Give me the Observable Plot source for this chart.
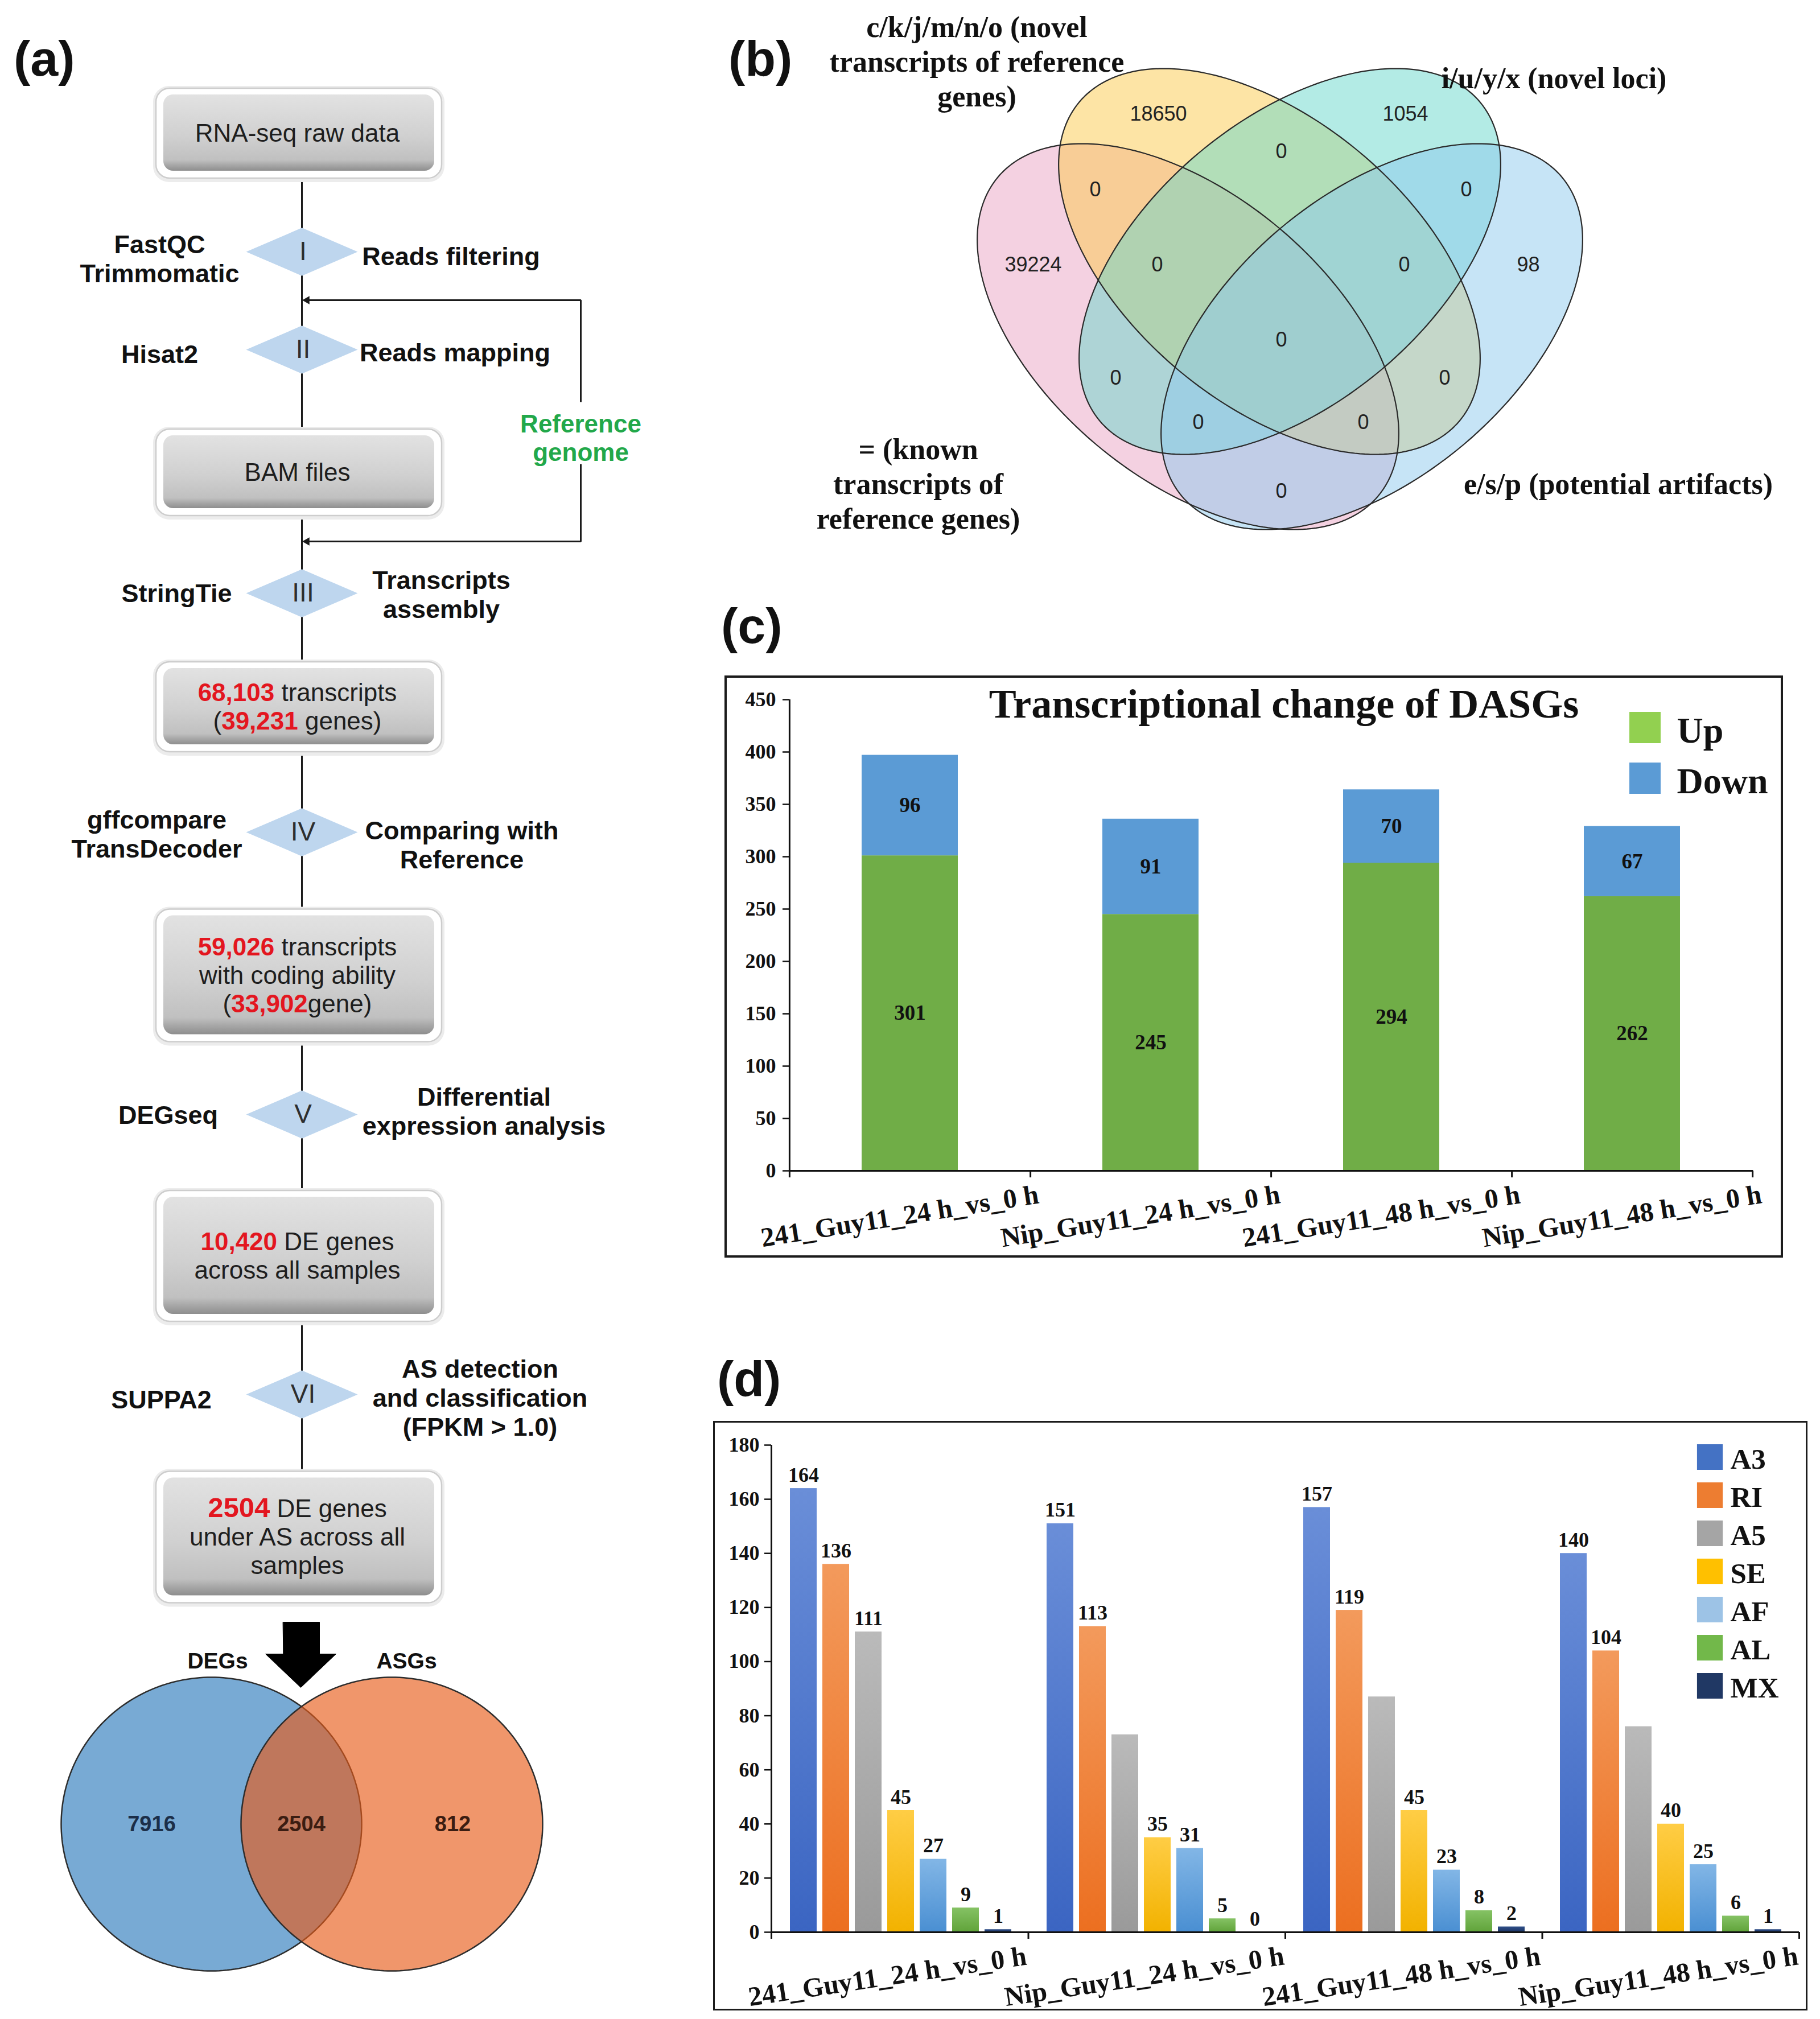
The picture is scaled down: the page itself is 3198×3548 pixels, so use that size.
<!DOCTYPE html>
<html>
<head>
<meta charset="utf-8">
<script src="https://cdn.jsdelivr.net/npm/d3@7"></script>
<script src="https://cdn.jsdelivr.net/npm/@observablehq/plot@0.6"></script>
<style>
html, body { margin: 0; padding: 0; background: #fff; }
#page { position: relative; width: 3198px; height: 3548px; background: #fff; overflow: hidden; }
.panel { position: absolute; }
.panel svg { max-width: none !important; display: block; overflow: visible; }
.plabel { position: absolute; font-family: "Liberation Sans", Arial, sans-serif; font-weight: bold; font-size: 88px; line-height: 100px; color: #111; white-space: nowrap; }
.border { position: absolute; box-sizing: border-box; border: 4px solid #1b1b1b; pointer-events: none; }
</style>
</head>
<body>
<div id="page">
<svg width="0" height="0" style="position:absolute"><defs id="defs"></defs></svg>
</div>
<script>
// ======================= DATA =======================
// (a) pipeline flowchart
const flowBoxTexts = [
  ["RNA-seq raw data"],
  ["BAM files"],
  ["{68,103} transcripts", "({39,231} genes)"],
  ["{59,026} transcripts", "with coding ability", "({33,902}gene)"],
  ["{10,420} DE genes", "across all samples"],
  ["{2504|49} DE genes", "under AS across all", "samples"]
];
const stepNumerals = ["I", "II", "III", "IV", "V", "VI"];
const stepTools = [["FastQC", "Trimmomatic"], ["Hisat2"], ["StringTie"], ["gffcompare", "TransDecoder"], ["DEGseq"], ["SUPPA2"]];
const stepActions = [["Reads filtering"], ["Reads mapping"], ["Transcripts", "assembly"], ["Comparing with", "Reference"], ["Differential", "expression analysis"], ["AS detection", "and classification", "(FPKM > 1.0)"]];
const referenceLabel = ["Reference", "genome"];
const vennASets = ["DEGs", "ASGs"];
const vennACounts = [7916, 2504, 812];

// (b) four-set Venn diagram
const vennBSetLabels = [
  ["= (known", "transcripts of", "reference genes)"],
  ["c/k/j/m/n/o (novel", "transcripts of reference", "genes)"],
  ["i/u/y/x (novel loci)"],
  ["e/s/p (potential artifacts)"]
];
const vennBCounts = [18650, 1054, 0, 0, 0, 39224, 0, 0, 98, 0, 0, 0, 0, 0, 0];

// (c) transcriptional change of DASGs
const comparisons = ["241_Guy11_24 h_vs_0 h", "Nip_Guy11_24 h_vs_0 h", "241_Guy11_48 h_vs_0 h", "Nip_Guy11_48 h_vs_0 h"];
const directions = ["Up", "Down"];
const upCounts = [301, 245, 294, 262];
const downCounts = [96, 91, 70, 67];
const titleC = "Transcriptional change of DASGs";
const yTicksC = [0, 50, 100, 150, 200, 250, 300, 350, 400, 450];

// (d) AS event types
const asTypes = ["A3", "RI", "A5", "SE", "AF", "AL", "MX"];
const countsA3 = [164, 151, 157, 140];
const countsRI = [136, 113, 119, 104];
const countsA5 = [111, 73, 87, 76];
const countsSE = [45, 35, 45, 40];
const countsAF = [27, 31, 23, 25];
const countsAL = [9, 5, 8, 6];
const countsMX = [1, 0, 2, 1];
const labeledA5 = [true, false, false, false];
const yTicksD = [0, 20, 40, 60, 80, 100, 120, 140, 160, 180];

// ======================= STYLE / LAYOUT =======================
const SANS = '"Liberation Sans", Arial, Helvetica, sans-serif';
const SERIF = '"Liberation Serif", "Times New Roman", Times, serif';
const INK = "#1a1a1a";

const FLOW_X = 530;
const BOX = {cx: 525, w: 502, textX: 522, lineH: 50};
const boxY = [234, 830, 1242, 1714, 2207, 2701];
const boxH = [158, 152, 158, 233, 230, 231];
const diamondY = [442, 614, 1042, 1462, 1958, 2450];
const toolPos = [[280, 456], [280, 623], [310, 1043], [275, 1467], [295, 1960], [283, 2460]];
const actionPos = [[792, 451], [799, 620], [775, 1046], [811, 1486], [850, 1954], [843, 2457]];
const LABEL_LH = 51;
const loop = {x: 1020, yTop: 527, yBot: 951, gapTop: 706, gapBot: 815, labelY: 770, tipX: 540};
const bigArrowPts = [[497, 2850], [561, 2850], [561, 2906], [590, 2906], [528, 2965], [466, 2906], [497, 2906]];
const vennAShapes = [{cx: 371, cy: 3205, rx: 264, ry: 258, fill: "#78aad4", op: 1}, {cx: 688, cy: 3205, rx: 265, ry: 258, fill: "#e85a18", op: 0.64}];
const vennASetPos = [[382, 2919], [714, 2919]];
const vennACountPos = [[266, 3205], [529, 3205], [795, 3205]];
const vennACountColor = ["#1c2e48", "#3b1d12", "#3b1d12"];

const vennBShapes = [
  {cx: 2087, cy: 591, a: 436, b: 249, rot: 40, fill: "#e9a3c3"},
  {cx: 2230, cy: 459, a: 436, b: 249, rot: 40, fill: "#fbc94c"},
  {cx: 2266, cy: 459, a: 436, b: 249, rot: -40, fill: "#68d8cc"},
  {cx: 2410, cy: 591, a: 436, b: 249, rot: -40, fill: "#8ecaee"}
];
const vennBLabelPos = [[1613, 851], [1716, 109], [2730, 138], [2843, 851]];
const VENN_B_LH = 61;
const vennBCountPos = [[2035, 200], [2469, 200], [2251, 266], [1924, 333], [2576, 333], [1815, 465], [2033, 465], [2467, 465], [2685, 465], [2251, 597], [1960, 664], [2538, 664], [2105, 742], [2395, 742], [2251, 863]];

const colorsC = ["#70ad47", "#5b9bd5"];
const legendColorsC = ["#92d050", "#5b9bd5"];
const barTopD = ["#6a8ed8", "#f39a5c", "#bababa", "#ffcd45", "#82b6e6", "#85c264", "#2f4f88"];
const barBottomD = ["#3b65c2", "#ec6f20", "#9a9a9a", "#f2b200", "#4a8fd2", "#60a33a", "#1c3566"];
const legendColorsD = ["#4472c4", "#ed7d31", "#a5a5a5", "#ffc000", "#9dc3e6", "#72b84a", "#203864"];

// ======================= HELPERS =======================
const NS = "http://www.w3.org/2000/svg";
const page = document.getElementById("page");
const defs = document.getElementById("defs");

function addGradient(id, stops) {
  const g = document.createElementNS(NS, "linearGradient");
  g.setAttribute("id", id);
  g.setAttribute("x1", "0"); g.setAttribute("y1", "0"); g.setAttribute("x2", "0"); g.setAttribute("y2", "1");
  for (const [o, c] of stops) {
    const s = document.createElementNS(NS, "stop");
    s.setAttribute("offset", o); s.setAttribute("stop-color", c);
    g.appendChild(s);
  }
  defs.appendChild(g);
}
addGradient("boxGrad", [[0, "#e2e2e2"], [0.55, "#d0d0d0"], [0.86, "#c0c0c0"], [0.93, "#a6a6a6"], [1, "#8e8e8e"]]);
asTypes.forEach((t, i) => addGradient("gd-" + t, [[0, barTopD[i]], [1, barBottomD[i]]]));
const gradUrlsD = asTypes.map(t => `url(#gd-${t})`);

function place(node, left, top, w, h) {
  const div = document.createElement("div");
  div.className = "panel";
  Object.assign(div.style, {left: left + "px", top: top + "px", width: w + "px", height: h + "px"});
  div.appendChild(node);
  page.appendChild(div);
  return node;
}
function addDiv(cls, text, left, top, extra = {}) {
  const d = document.createElement("div");
  d.className = cls;
  if (text) d.textContent = text;
  Object.assign(d.style, {left: left + "px", top: top + "px"}, extra);
  page.appendChild(d);
  return d;
}
function pixelPlot(x0, y0, w, h, marks) {
  return Plot.plot({
    width: w, height: h, margin: 0,
    x: {type: "linear", domain: [x0, x0 + w], range: [0, w], axis: null},
    y: {type: "linear", domain: [y0, y0 + h], range: [0, h], axis: null},
    style: {background: "transparent", overflow: "visible"},
    marks
  });
}
function ellipsePts(cx, cy, a, b, deg, n = 240) {
  const t = deg * Math.PI / 180, c = Math.cos(t), s = Math.sin(t);
  return d3.range(n).map(k => {
    const u = 2 * Math.PI * k / n, ex = a * Math.cos(u), ey = b * Math.sin(u);
    return {x: cx + ex * c - ey * s, y: cy + ex * s + ey * c};
  });
}
function stackLines(lines, x, yc, lh) {
  return lines.map((t, j) => ({t, x, y: yc + (j - (lines.length - 1) / 2) * lh}));
}
function colorizeBraces(svg, color) {
  svg.querySelectorAll("text").forEach(node => {
    const s = node.textContent;
    if (!s.includes("{")) return;
    node.textContent = "";
    s.split(/(\{[^}]*\})/).forEach(part => {
      if (!part) return;
      const ts = document.createElementNS(NS, "tspan");
      if (part.startsWith("{")) {
        const [val, size] = part.slice(1, -1).split("|");
        ts.textContent = val;
        ts.setAttribute("fill", color);
        ts.setAttribute("font-weight", "bold");
        if (size) ts.setAttribute("font-size", size);
      } else ts.textContent = part;
      node.appendChild(ts);
    });
  });
}
const wideDiamond = {
  draw(context, size) {
    const r = Math.sqrt(size / Math.PI), h = r * 0.43;
    context.moveTo(-r, 0); context.lineTo(0, -h); context.lineTo(r, 0); context.lineTo(0, h); context.closePath();
  }
};

// ======================= PANEL (a) =======================
{
  const boxes = flowBoxTexts.map((lines, i) => ({i, y: boxY[i], h: boxH[i]}));
  const boxLines = flowBoxTexts.flatMap((lines, i) => stackLines(lines, BOX.textX, boxY[i], BOX.lineH));
  const steps = stepNumerals.map((n, i) => ({n, y: diamondY[i]}));
  const toolLines = stepTools.flatMap((lines, i) => stackLines(lines, toolPos[i][0], toolPos[i][1], LABEL_LH));
  const actionLines = stepActions.flatMap((lines, i) => stackLines(lines, actionPos[i][0], actionPos[i][1], LABEL_LH));
  const refLines = stackLines(referenceLabel, loop.x, loop.labelY, 50);
  const loopTop = [{x: loop.tipX, y: loop.yTop}, {x: loop.x, y: loop.yTop}, {x: loop.x, y: loop.gapTop}];
  const loopBot = [{x: loop.x, y: loop.gapBot}, {x: loop.x, y: loop.yBot}, {x: loop.tipX, y: loop.yBot}];
  const heads = [{x: loop.tipX, y: loop.yTop}, {x: loop.tipX, y: loop.yBot}];
  const arrow = bigArrowPts.map(([x, y]) => ({x, y}));
  const vennA = vennAShapes.map(s => ellipsePts(s.cx, s.cy, s.rx, s.ry, 0));
  const setLabels = vennASets.map((t, i) => ({t, x: vennASetPos[i][0], y: vennASetPos[i][1]}));
  const countLabels = vennACounts.map((v, i) => ({t: String(v), x: vennACountPos[i][0], y: vennACountPos[i][1], c: vennACountColor[i]}));
  const bx1 = BOX.cx - BOX.w / 2, bx2 = BOX.cx + BOX.w / 2;

  const svg = pixelPlot(0, 0, 1150, 3548, [
    Plot.ruleX([FLOW_X], {y1: boxY[0], y2: boxY[5], stroke: INK, strokeWidth: 3}),
    Plot.line(loopTop, {x: "x", y: "y", stroke: INK, strokeWidth: 3, strokeLinejoin: "miter", strokeLinecap: "butt"}),
    Plot.line(loopBot, {x: "x", y: "y", stroke: INK, strokeWidth: 3, strokeLinejoin: "miter", strokeLinecap: "butt"}),
    Plot.dot(heads, {x: d => d.x - 1, y: "y", symbol: "triangle2", r: 7, rotate: -90, fill: INK}),
    // boxes: soft shadow, white rim, grey bevel
    Plot.rect(boxes, {x1: bx1 - 5, x2: bx2 + 5, y1: d => d.y - d.h / 2 - 4, y2: d => d.y + d.h / 2 + 7, rx: 28, fill: "#ececec"}),
    Plot.rect(boxes, {x1: bx1, x2: bx2, y1: d => d.y - d.h / 2, y2: d => d.y + d.h / 2, rx: 24, fill: "white", stroke: "#cdcdcd", strokeWidth: 2.5}),
    Plot.rect(boxes, {x1: bx1 + 13, x2: bx2 - 13, y1: d => d.y - d.h / 2 + 11, y2: d => d.y + d.h / 2 - 13, rx: 17, fill: "url(#boxGrad)"}),
    Plot.text(boxLines, {x: "x", y: "y", text: "t", fontSize: 44, fontFamily: SANS, fill: "#1e1e1e"}),
    // diamonds
    Plot.dot(steps, {x: FLOW_X, y: "y", symbol: wideDiamond, r: 98, fill: "#bed6ee"}),
    Plot.text(steps, {x: FLOW_X + 2, y: "y", text: "n", fontSize: 46, fontFamily: SANS, fill: "#2e2e2e"}),
    Plot.text(toolLines, {x: "x", y: "y", text: "t", fontSize: 45, fontWeight: "bold", fontFamily: SANS, fill: "#111"}),
    Plot.text(actionLines, {x: "x", y: "y", text: "t", fontSize: 45, fontWeight: "bold", fontFamily: SANS, fill: "#111"}),
    Plot.text(refLines, {x: "x", y: "y", text: "t", fontSize: 44, fontWeight: "bold", fontFamily: SANS, fill: "#22a84a"}),
    // big arrow
    Plot.line(arrow, {x: "x", y: "y", curve: "linear-closed", fill: "#000", stroke: "#000", strokeWidth: 1}),
    // two-set Venn
    ...vennA.map((pts, i) => Plot.line(pts, {x: "x", y: "y", curve: "linear-closed", fill: vennAShapes[i].fill, fillOpacity: vennAShapes[i].op, stroke: "#2d2d2d", strokeWidth: 2.5})),
    Plot.text(setLabels, {x: "x", y: "y", text: "t", fontSize: 39, fontWeight: "bold", fontFamily: SANS, fill: "#111"}),
    Plot.text(countLabels, {x: "x", y: "y", text: "t", fontSize: 38, fontWeight: "bold", fontFamily: SANS, fill: d => d.c})
  ]);
  colorizeBraces(svg, "#e3161f");
  place(svg, 0, 0, 1150, 3548);
}

// ======================= PANEL (b) =======================
{
  const shapes = vennBShapes.map(s => ellipsePts(s.cx, s.cy, s.a, s.b, s.rot));
  const setLines = vennBSetLabels.flatMap((lines, i) => stackLines(lines, vennBLabelPos[i][0], vennBLabelPos[i][1], VENN_B_LH));
  const counts = vennBCounts.map((v, i) => ({t: String(v), x: vennBCountPos[i][0], y: vennBCountPos[i][1]}));
  const svg = pixelPlot(1250, 0, 1948, 1000, [
    ...shapes.map((pts, i) => Plot.line(pts, {x: "x", y: "y", curve: "linear-closed", fill: vennBShapes[i].fill, fillOpacity: 0.5, stroke: "none"})),
    ...shapes.map(pts => Plot.line(pts, {x: "x", y: "y", curve: "linear-closed", fill: "none", stroke: "#2a2a2a", strokeWidth: 2.2})),
    Plot.text(counts, {x: "x", y: "y", text: "t", fontSize: 36, fontFamily: SANS, fill: "#222"}),
    Plot.text(setLines, {x: "x", y: "y", text: "t", fontSize: 52, fontWeight: "bold", fontFamily: SERIF, fill: "#111"})
  ]);
  place(svg, 1250, 0, 1948, 1000);
}

// ======================= PANEL (c) =======================
{
  const W = 1860, H = 1023, ml = 114, mr = 53, mt = 42, mb = 153;
  const step = (W - ml - mr) / comparisons.length;
  const yMax = yTicksC[yTicksC.length - 1];
  const tickLen = 12 * yMax / (H - mt - mb);
  const rows = directions.flatMap(dir => comparisons.map((comp, i) => ({comp, dir, value: dir === "Up" ? upCounts[i] : downCounts[i]})));
  const svg = Plot.plot({
    width: W, height: H, marginLeft: ml, marginRight: mr, marginTop: mt, marginBottom: mb,
    style: {background: "transparent", fontFamily: SERIF, fontWeight: "bold", fontSize: "36px", color: "#111", overflow: "visible"},
    x: {domain: comparisons, paddingInner: 0.6, paddingOuter: 0.3, axis: null},
    y: {domain: [0, yMax]},
    color: {domain: directions, range: colorsC},
    marks: [
      Plot.barY(rows, {x: "comp", y: "value", fill: "dir"}),
      Plot.text(rows, Plot.stackY({x: "comp", y: "value", text: d => String(d.value), fill: "#111", fontSize: 37, fontWeight: "bold", fontFamily: SERIF})),
      Plot.axisY(yTicksC, {anchor: "left", tickSize: 12, tickPadding: 12, tickFormat: d => String(d), label: null, fontSize: 36, fontWeight: "bold", fontFamily: SERIF, strokeWidth: 2.5}),
      Plot.ruleY([0], {stroke: "#111", strokeWidth: 3}),
      Plot.ruleX(comparisons.slice(0, 1), {x: d => d, dx: -step / 2, y1: -tickLen, y2: yMax, stroke: "#111", strokeWidth: 3}),
      Plot.ruleX(comparisons, {x: d => d, dx: step / 2, y1: 0, y2: -tickLen, stroke: "#111", strokeWidth: 3}),
      Plot.text(comparisons, {x: d => d, y: 0, text: d => d, dx: -18, dy: 80, rotate: -9, fontSize: 48, fontWeight: "bold", fontFamily: SERIF, fill: "#111"}),
      Plot.text([titleC], {frameAnchor: "top", text: d => d, dx: 22, dy: 8, lineAnchor: "middle", fontSize: 72, fontWeight: "bold", fontFamily: SERIF, fill: "#111"})
    ]
  });
  place(svg, 1273, 1187, W, H);
  addDiv("border", "", 1273, 1187, {width: W + "px", height: H + "px"});

  const legend = Plot.plot({
    width: 330, height: 200, margin: 0,
    x: {type: "linear", domain: [0, 330], range: [0, 330], axis: null},
    y: {type: "point", domain: directions, range: [48, 137], padding: 0, axis: null},
    style: {background: "transparent", overflow: "visible"},
    marks: [
      Plot.dot(directions, {x: 40, y: d => d, symbol: "square", r: 31, fill: (d, i) => legendColorsC[i]}),
      Plot.text(directions, {x: 96, y: d => d, dy: 6, text: d => d, textAnchor: "start", fontSize: 64, fontWeight: "bold", fontFamily: SERIF, fill: "#111"})
    ]
  });
  place(legend, 2850, 1230, 330, 200);
}

// ======================= PANEL (d) =======================
{
  const W = 1923, H = 1036, ml = 102, mr = 15, mt = 42, mb = 138;
  const byType = {A3: countsA3, RI: countsRI, A5: countsA5, SE: countsSE, AF: countsAF, AL: countsAL, MX: countsMX};
  const rows = comparisons.flatMap((comp, g) => asTypes.map(type => ({
    comp, type, value: byType[type][g],
    label: type === "A5" && !labeledA5[g] ? "" : String(byType[type][g])
  })));
  const yMax = yTicksD[yTicksD.length - 1];
  const tickLen = 12 * yMax / (H - mt - mb);
  const groupIdx = comparisons.map((c, i) => i);
  const bars = Plot.plot({
    width: W, height: H, marginLeft: ml, marginRight: mr, marginTop: mt, marginBottom: mb,
    style: {background: "transparent", overflow: "visible"},
    facet: {data: rows, x: "comp"},
    fx: {domain: comparisons, paddingInner: 0.06, paddingOuter: 0.03, axis: null, label: null},
    x: {domain: asTypes, padding: 0.18, paddingOuter: 0.25, axis: null},
    y: {domain: [0, yMax], axis: null},
    color: {domain: asTypes, range: gradUrlsD},
    marks: [
      Plot.barY(rows, {x: "type", y: "value", fill: "type"}),
      Plot.text(rows, {x: "type", y: "value", text: "label", dy: -12, lineAnchor: "bottom", fontSize: 36, fontWeight: "bold", fontFamily: SERIF, fill: "#111"})
    ]
  });
  place(bars, 1253, 2497, W, H);

  const axes = Plot.plot({
    width: W, height: H, marginLeft: ml, marginRight: mr, marginTop: mt, marginBottom: mb,
    style: {background: "transparent", fontFamily: SERIF, fontWeight: "bold", fontSize: "36px", color: "#111", overflow: "visible"},
    x: {type: "linear", domain: [0, comparisons.length], axis: null},
    y: {domain: [0, yMax]},
    marks: [
      Plot.axisY(yTicksD, {anchor: "left", tickSize: 12, tickPadding: 9, tickFormat: d => String(d), label: null, fontSize: 36, fontWeight: "bold", fontFamily: SERIF, strokeWidth: 2.5}),
      Plot.ruleY([0], {stroke: "#111", strokeWidth: 3}),
      Plot.ruleX([0], {x: d => d, y1: -tickLen, y2: yMax, stroke: "#111", strokeWidth: 3}),
      Plot.ruleX(d3.range(1, comparisons.length + 1), {x: d => d, y1: 0, y2: -tickLen, stroke: "#111", strokeWidth: 3}),
      Plot.text(groupIdx, {x: i => i + 0.5, y: 0, text: i => comparisons[i], dx: -22, dy: 78, rotate: -8.5, fontSize: 48, fontWeight: "bold", fontFamily: SERIF, fill: "#111"})
    ]
  });
  place(axes, 1253, 2497, W, H);
  addDiv("border", "", 1253, 2497, {width: W + "px", height: H + "px", borderWidth: "3.5px"});

  const legend = Plot.plot({
    width: 230, height: 500, margin: 0,
    x: {type: "linear", domain: [0, 230], range: [0, 230], axis: null},
    y: {type: "point", domain: asTypes, range: [50, 452], padding: 0, axis: null},
    style: {background: "transparent", overflow: "visible"},
    marks: [
      Plot.dot(asTypes, {x: 44, y: d => d, symbol: "square", r: 25.5, fill: (d, i) => legendColorsD[i]}),
      Plot.text(asTypes, {x: 80, y: d => d, dy: 4, text: d => d, textAnchor: "start", fontSize: 51, fontWeight: "bold", fontFamily: SERIF, fill: "#111"})
    ]
  });
  place(legend, 2960, 2510, 230, 500);
}

// ======================= PANEL LETTERS =======================
addDiv("plabel", "(a)", 24, 53);
addDiv("plabel", "(b)", 1280, 53);
addDiv("plabel", "(c)", 1267, 1050);
addDiv("plabel", "(d)", 1260, 2373);
</script>
</body>
</html>
